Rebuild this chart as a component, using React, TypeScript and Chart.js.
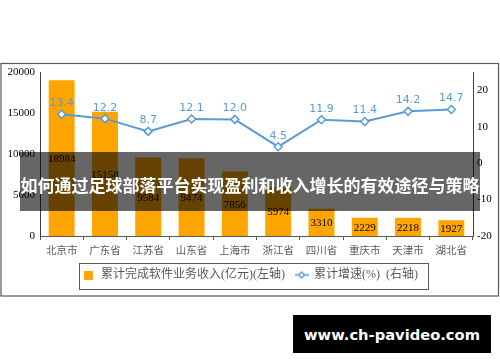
import React, { useEffect, useRef } from 'react';
import { Chart, registerables } from 'chart.js';

Chart.register(...registerables);

const categories = ['北京市', '广东省', '江苏省', '山东省', '上海市', '浙江省', '四川省', '重庆市', '天津市', '湖北省'];
const revenue = [18984, 15158, 9584, 9474, 7856, 5974, 3310, 2229, 2218, 1927];
const growth = [13.4, 12.2, 8.7, 12.1, 12.0, 4.5, 11.9, 11.4, 14.2, 14.7];
const leftTicks = [0, 5000, 10000, 15000, 20000];
const rightTicks = [-20, -10, 0, 10, 20];
const seriesNames = ['累计完成软件业务收入(亿元)(左轴)', '累计增速(%)  (右轴)'];
const bannerTitle = '如何通过足球部落平台实现盈利和收入增长的有效途径与策略';
const watermark = 'www.ch-pavideo.com';

const ORANGE = '#FFA500';
const BLUE = '#5B9BD5';
const SERIF = '"Liberation Serif", "Noto Sans CJK SC", serif';

function makeBoxMarker(color: string) {
  const c = document.createElement('canvas');
  c.width = 9;
  c.height = 9;
  const g = c.getContext('2d')!;
  g.fillStyle = color;
  g.fillRect(0, 0, 9, 9);
  return c;
}

function makeLineMarker(color: string) {
  const c = document.createElement('canvas');
  c.width = 14;
  c.height = 9;
  const g = c.getContext('2d')!;
  g.strokeStyle = color;
  g.lineWidth = 1.5;
  g.beginPath();
  g.moveTo(0, 4.5);
  g.lineTo(14, 4.5);
  g.stroke();
  g.fillStyle = '#fff';
  g.beginPath();
  g.moveTo(7, 1.5);
  g.lineTo(10, 4.5);
  g.lineTo(7, 7.5);
  g.lineTo(4, 4.5);
  g.closePath();
  g.fill();
  g.stroke();
  return c;
}

const framePlugin = {
  id: 'frame',
  beforeDraw(chart: any) {
    const ctx = chart.ctx;
    ctx.save();
    ctx.strokeStyle = '#595959';
    ctx.lineWidth = 1.2;
    ctx.strokeRect(1, 63.5, 497.5, 232.5);
    ctx.restore();
  },
  afterDraw(chart: any) {
    const lg = chart.legend;
    if (!lg || !lg.legendHitBoxes || !lg.legendHitBoxes.length) return;
    const hb = lg.legendHitBoxes;
    const first = hb[0];
    const last = hb[hb.length - 1];
    const ctx = chart.ctx;
    ctx.save();
    ctx.strokeStyle = '#595959';
    ctx.lineWidth = 1;
    const left = first.left - 3;
    const right = last.left + last.width + 10;
    const top = first.top - 6.5;
    ctx.strokeRect(Math.round(left) + 0.5, Math.round(top) + 0.5, Math.round(right - left), 26);
    ctx.restore();
  },
};

const valueLabelPlugin = {
  id: 'valueLabels',
  afterDatasetsDraw(chart: any) {
    const ctx = chart.ctx;
    ctx.save();
    ctx.textAlign = 'center';
    ctx.textBaseline = 'middle';
    const barMeta = chart.getDatasetMeta(0);
    ctx.font = '11px "Liberation Serif", serif';
    ctx.fillStyle = '#000';
    barMeta.data.forEach((el: any, i: number) => {
      const p = el.getProps(['x', 'y', 'base'], true);
      ctx.fillText(String(revenue[i]), p.x, (p.y + p.base) / 2 + 1);
    });
    const lineMeta = chart.getDatasetMeta(1);
    ctx.font = '11px "DejaVu Sans", sans-serif';
    ctx.fillStyle = BLUE;
    lineMeta.data.forEach((el: any, i: number) => {
      ctx.fillText(growth[i].toFixed(1), el.x, el.y - 11);
    });
    ctx.restore();
  },
};

export default function App() {
  const ref = useRef<HTMLCanvasElement | null>(null);

  useEffect(() => {
    if (!ref.current) return;
    const boxMarker = makeBoxMarker(ORANGE);
    const lineMarker = makeLineMarker(BLUE);
    const chart = new Chart(ref.current, {
      type: 'bar',
      data: {
        labels: categories,
        datasets: [
          {
            type: 'bar',
            label: seriesNames[0],
            data: revenue,
            backgroundColor: ORANGE,
            borderWidth: 0,
            barPercentage: 0.6,
            categoryPercentage: 1,
            yAxisID: 'y',
            order: 2,
          } as any,
          {
            type: 'line',
            label: seriesNames[1],
            data: growth,
            borderColor: BLUE,
            borderWidth: 2,
            pointStyle: 'rectRot',
            pointRadius: 4,
            pointBorderWidth: 1.5,
            pointBackgroundColor: '#fff',
            pointBorderColor: BLUE,
            tension: 0,
            yAxisID: 'y1',
            order: 1,
          } as any,
        ],
      },
      options: {
        animation: false,
        responsive: false,
        layout: { padding: { top: 72, bottom: 71, left: 0, right: 0 } },
        plugins: {
          tooltip: { enabled: false },
          legend: {
            position: 'bottom',
            labels: {
              usePointStyle: true,
              pointStyleWidth: 13,
              padding: 10,
              color: '#595959',
              font: { family: SERIF, size: 12 },
              generateLabels: () => [
                { text: seriesNames[0], pointStyle: boxMarker as any, fontColor: '#595959', datasetIndex: 0, hidden: false, lineWidth: 0 },
                { text: seriesNames[1], pointStyle: lineMarker as any, fontColor: '#595959', datasetIndex: 1, hidden: false, lineWidth: 0 },
              ] as any,
            },
          },
        },
        scales: {
          x: {
            grid: { display: true, drawOnChartArea: false, drawTicks: true, tickLength: 4, color: '#595959', offset: true },
            border: { color: '#595959', width: 1 },
            ticks: { color: '#595959', font: { family: SERIF, size: 10.5 }, padding: 5, maxRotation: 0, autoSkip: false },
            afterFit: (s: any) => { s.height = 23; },
          },
          y: {
            position: 'left',
            min: 0,
            max: 20000,
            ticks: { stepSize: 5000, color: '#000', font: { family: SERIF, size: 11 }, padding: 5, callback: (v: any) => String(v) },
            afterBuildTicks: (s: any) => { s.ticks = leftTicks.map((v) => ({ value: v })); },
            grid: { display: false, drawTicks: false },
            border: { color: '#404040', width: 1 },
            afterFit: (s: any) => { s.width = 40; },
          },
          y1: {
            position: 'right',
            min: -20,
            max: 25,
            ticks: { stepSize: 10, color: '#000', font: { family: SERIF, size: 11 }, padding: 4, callback: (v: any) => String(v) },
            afterBuildTicks: (s: any) => { s.ticks = rightTicks.map((v) => ({ value: v })); },
            grid: { display: false, drawTicks: false },
            border: { color: '#404040', width: 1 },
            afterFit: (s: any) => { s.width = 27; },
          },
        },
      } as any,
      plugins: [framePlugin, valueLabelPlugin],
    });
    return () => chart.destroy();
  }, []);

  return (
    <div style={{ position: 'absolute', left: 0, top: 0, width: 500, height: 362, background: '#fff', overflow: 'hidden' }}>
      <canvas ref={ref} width={500} height={362} style={{ position: 'absolute', left: 0, top: 0, width: 500, height: 362 }} />
      <div
        style={{
          position: 'absolute', left: 20, top: 152, width: 460, height: 59,
          background: 'rgba(0,0,0,0.6)', color: '#fff',
          display: 'flex', alignItems: 'center', justifyContent: 'center',
          fontFamily: '"Noto Sans CJK SC", sans-serif', fontWeight: 'bold', fontSize: 17,
          whiteSpace: 'nowrap', paddingTop: 5, boxSizing: 'border-box',
        }}
      >
        {bannerTitle}
      </div>
      <div
        style={{
          position: 'absolute', left: 293, top: 315, width: 198, height: 38,
          background: '#000', color: '#fff',
          display: 'flex', alignItems: 'center', justifyContent: 'center',
          fontFamily: '"DejaVu Sans", sans-serif', fontWeight: 'bold', fontSize: 14.7,
          whiteSpace: 'nowrap',
        }}
      >
        {watermark}
      </div>
    </div>
  );
}
